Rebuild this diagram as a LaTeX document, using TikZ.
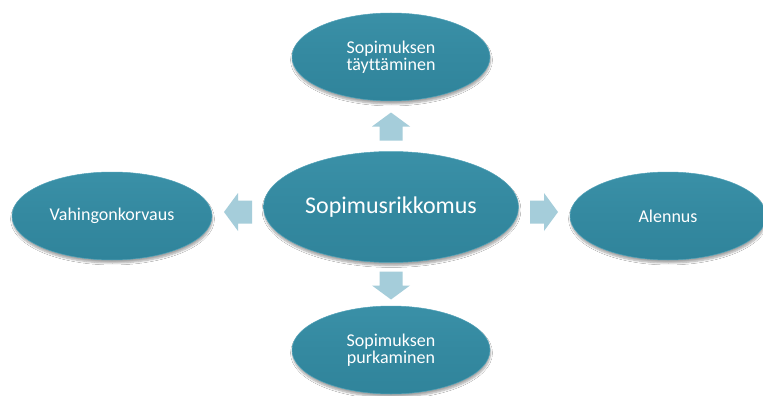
\documentclass[tikz,border=0pt]{standalone}
\usepackage{fontspec}
\setmainfont{Carlito}[Ligatures=NoCommon]
\usetikzlibrary{shapes.geometric,shadows.blur}
\definecolor{teal1}{HTML}{3489A0}
\definecolor{tealtop}{HTML}{3A90A7}
\definecolor{tealbot}{HTML}{30849B}
\definecolor{tealrim}{HTML}{52A2B8}
\definecolor{arrowc}{HTML}{A5CDDA}
\tikzset{
  bubble/.style={ellipse, inner sep=0pt, text=white, align=center,
    top color=tealtop, bottom color=tealbot, middle color=teal1,
    draw=tealrim, line width=0.5pt,
    blur shadow={shadow xshift=0.5pt, shadow yshift=-3pt, shadow blur steps=6, shadow opacity=35},
    font=\fontsize{18}{17.5}\selectfont},
  smallbubble/.style={bubble, minimum width=198pt, minimum height=88pt},
  bigbubble/.style={bubble, minimum width=255pt, minimum height=111pt, font=\fontsize{24}{28}\selectfont},
  blockarr/.pic={\fill[arrowc] (-14,-11.5) -- (0,-11.5) -- (0,-19) -- (14,0) -- (0,19) -- (0,11.5) -- (-14,11.5) -- cycle;}
}
\begin{document}
\begin{tikzpicture}[x=1pt,y=1pt]
\useasboundingbox[fill=white] (0,0) rectangle (763,-396);
\node[bigbubble] (center) at (391,-207) {Sopimusrikkomus};
\node[smallbubble] (top) at (391,-57) {Sopimuksen\\täyttäminen};
\node[smallbubble] (bottom) at (391,-350) {Sopimuksen\\purkaminen};
\node[smallbubble, minimum width=200pt] (left) at (112,-216) {Vahingonkorvaus};
\node[smallbubble, minimum width=196pt] (right) at (668,-216) {Alennus};
\pic[rotate=90] (aup) at (391,-126.5) {blockarr};
\pic[rotate=-90] (adown) at (391,-285.5) {blockarr};
\pic[rotate=180] (aleft) at (238,-212) {blockarr};
\pic (aright) at (544,-212) {blockarr};
\end{tikzpicture}
\end{document}
